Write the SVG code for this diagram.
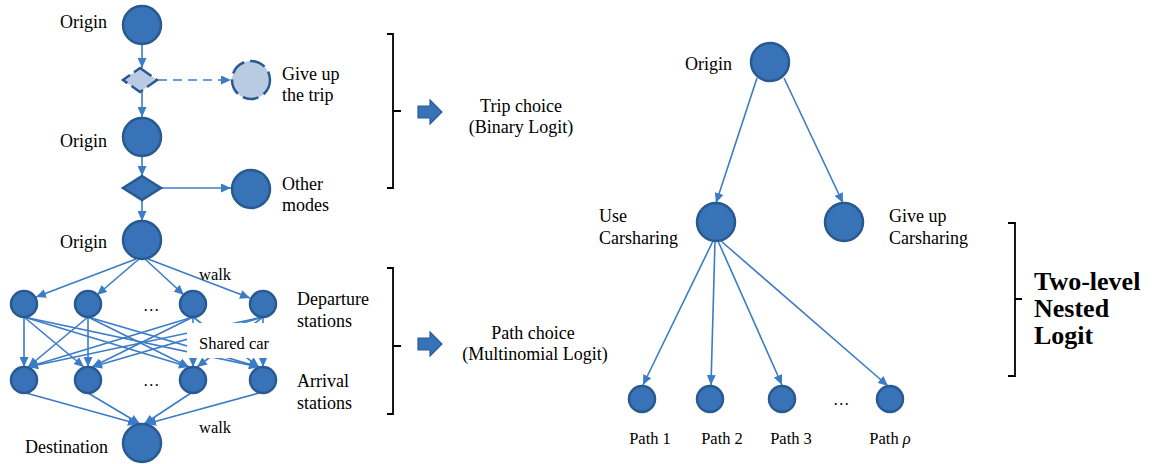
<svg xmlns="http://www.w3.org/2000/svg" width="1155" height="464" viewBox="0 0 1155 464">
<style>
.n{fill:#3873b8;stroke:#285a91;stroke-width:2.5}
.lt{fill:#b9cbe3;stroke:#285a91;stroke-width:2.5;stroke-dasharray:16 6}
.e{stroke:#3b7cc6;stroke-width:1.6;fill:none;marker-end:url(#ah)}
.t{font-family:"Liberation Serif","Times New Roman",serif;font-size:18px;fill:#000}
.s{font-family:"Liberation Serif","Times New Roman",serif;font-size:16.5px;fill:#000}
.b{font-family:"Liberation Serif","Times New Roman",serif;font-size:26px;font-weight:bold;fill:#000}
.br{stroke:#000;stroke-width:1.8;fill:none}
.ba{fill:#3873b8;stroke:#285a91;stroke-width:1.2}
</style>
<defs>
<marker id="ah" markerUnits="userSpaceOnUse" markerWidth="11" markerHeight="9" refX="10" refY="4.5" orient="auto">
<path d="M0,0 L10,4.5 L0,9 z" fill="#3b7cc6"/>
</marker>
</defs>
<rect width="1155" height="464" fill="#fff"/>
<g id="connectors">
<line class="e" x1="142" y1="44" x2="142" y2="68"/>
<line class="e" x1="142" y1="92" x2="142" y2="117"/>
<line class="e" x1="142" y1="156" x2="142" y2="176"/>
<line class="e" x1="142" y1="200" x2="142" y2="221"/>
<line class="e" x1="158" y1="80" x2="231" y2="80" stroke-dasharray="9 6"/>
<line class="e" x1="161" y1="188" x2="231" y2="188"/>
<line class="e" x1="136" y1="259" x2="36" y2="297"/>
<line class="e" x1="139" y1="259" x2="97" y2="295"/>
<line class="e" x1="145" y1="259" x2="184" y2="295"/>
<line class="e" x1="148" y1="259" x2="250" y2="298"/>
<line class="e" x1="24" y1="317" x2="24" y2="367"/>
<line class="e" x1="24" y1="317" x2="84" y2="367"/>
<line class="e" x1="24" y1="317" x2="189" y2="367"/>
<line class="e" x1="24" y1="317" x2="259" y2="367"/>
<line class="e" x1="88" y1="317" x2="28" y2="367"/>
<line class="e" x1="88" y1="317" x2="88" y2="367"/>
<line class="e" x1="88" y1="317" x2="189" y2="367"/>
<line class="e" x1="88" y1="317" x2="259" y2="367"/>
<line class="e" x1="193" y1="317" x2="28" y2="367"/>
<line class="e" x1="193" y1="317" x2="92" y2="367"/>
<line class="e" x1="193" y1="317" x2="193" y2="367"/>
<line class="e" x1="193" y1="317" x2="259" y2="367"/>
<line class="e" x1="263" y1="317" x2="28" y2="367"/>
<line class="e" x1="263" y1="317" x2="92" y2="367"/>
<line class="e" x1="263" y1="317" x2="197" y2="367"/>
<line class="e" x1="263" y1="317" x2="263" y2="367"/>
<line class="e" x1="26" y1="393" x2="138" y2="424"/>
<line class="e" x1="88" y1="393" x2="140" y2="424"/>
<line class="e" x1="191" y1="393" x2="144" y2="424"/>
<line class="e" x1="259" y1="393" x2="146" y2="424"/>
<line class="e" x1="757" y1="78" x2="716" y2="203"/>
<line class="e" x1="784" y1="78" x2="843" y2="203"/>
<line class="e" x1="713" y1="241" x2="643" y2="385"/>
<line class="e" x1="715" y1="241" x2="711" y2="385"/>
<line class="e" x1="718" y1="241" x2="782" y2="385"/>
<line class="e" x1="721" y1="241" x2="888" y2="386"/>
</g>
<g id="shared-car-label">
<rect x="187" y="323" width="96" height="35" fill="#fff"/>
<text class="s" x="199" y="349">Shared car</text>
</g>
<g id="origin1"><circle class="n" cx="142" cy="25" r="19"/><text class="t" x="60" y="28">Origin</text></g>
<g id="decision1"><path d="M140,68 L157,80 L140,92 L123,80 z" fill="#b9cbe3" stroke="#285a91" stroke-width="2.5" stroke-dasharray="14 5"/></g>
<g id="giveup-trip"><circle class="lt" cx="251" cy="80" r="19"/><text class="t" x="282" y="80">Give up</text><text class="t" x="282" y="101">the trip</text></g>
<g id="origin2"><circle class="n" cx="142" cy="137" r="19"/><text class="t" x="60" y="147">Origin</text></g>
<g id="decision2"><path d="M142,176 L161,188 L142,200 L123,188 z" class="n"/></g>
<g id="other-modes"><circle class="n" cx="251" cy="189" r="19"/><text class="t" x="282" y="190">Other</text><text class="t" x="282" y="211">modes</text></g>
<g id="origin3"><circle class="n" cx="142" cy="240" r="19"/><text class="t" x="60" y="248">Origin</text></g>
<g id="dep1"><circle class="n" cx="24" cy="304" r="13"/></g>
<g id="dep2"><circle class="n" cx="88" cy="304" r="13"/></g>
<g id="dep3"><circle class="n" cx="193" cy="304" r="13"/></g>
<g id="dep4"><circle class="n" cx="263" cy="304" r="13"/></g>
<g id="arr1"><circle class="n" cx="24" cy="380" r="13"/></g>
<g id="arr2"><circle class="n" cx="88" cy="380" r="13"/></g>
<g id="arr3"><circle class="n" cx="193" cy="380" r="13"/></g>
<g id="arr4"><circle class="n" cx="263" cy="380" r="13"/></g>
<g id="destination"><circle class="n" cx="142" cy="443" r="19"/><text class="t" x="25" y="453">Destination</text></g>
<g id="left-labels">
<text class="s" x="143" y="311">…</text>
<text class="s" x="143" y="386">…</text>
<text class="s" x="199" y="280">walk</text>
<text class="s" x="199" y="433">walk</text>
<text class="t" x="297" y="305">Departure</text>
<text class="t" x="297" y="327">stations</text>
<text class="t" x="297" y="387">Arrival</text>
<text class="t" x="297" y="409">stations</text>
</g>
<g id="bracket1"><path class="br" d="M387,34 H393 V188 H387 M393,111 H401"/></g>
<g id="blockarrow1"><path class="ba" d="M418,106 H430 V100 L442,112 L430,124 V118 H418 z"/></g>
<g id="trip-choice"><text class="t" x="521" y="112" text-anchor="middle">Trip choice</text><text class="t" x="521" y="133" text-anchor="middle">(Binary Logit)</text></g>
<g id="bracket2"><path class="br" d="M387,268 H393 V414 H387 M393,346 H401"/></g>
<g id="blockarrow2"><path class="ba" d="M418,338 H430 V332 L442,344 L430,356 V350 H418 z"/></g>
<g id="path-choice"><text class="t" x="533" y="339" text-anchor="middle">Path choice</text><text class="t" x="535" y="360" text-anchor="middle">(Multinomial Logit)</text></g>
<g id="r-origin"><circle class="n" cx="770" cy="62" r="19"/><text class="t" x="685" y="70">Origin</text></g>
<g id="use-carsharing"><circle class="n" cx="716" cy="222" r="19"/><text class="t" x="599" y="222">Use</text><text class="t" x="599" y="244">Carsharing</text></g>
<g id="giveup-carsharing"><circle class="n" cx="844" cy="222" r="19"/><text class="t" x="889" y="222">Give up</text><text class="t" x="889" y="244">Carsharing</text></g>
<g id="path1"><circle class="n" cx="642" cy="399" r="13"/><text class="s" x="650" y="444" text-anchor="middle">Path 1</text></g>
<g id="path2"><circle class="n" cx="710" cy="399" r="13"/><text class="s" x="722" y="444" text-anchor="middle">Path 2</text></g>
<g id="path3"><circle class="n" cx="782" cy="399" r="13"/><text class="s" x="791" y="444" text-anchor="middle">Path 3</text></g>
<g id="pathrho"><circle class="n" cx="890" cy="399" r="13"/><text class="s" x="890" y="444" text-anchor="middle">Path <tspan font-style="italic">ρ</tspan></text></g>
<text class="s" x="833" y="405">…</text>
<g id="bracket3"><path class="br" d="M1008,223 H1015 V376 H1008 M1015,299 H1022"/></g>
<g id="nested-logit"><text class="b" x="1034" y="290">Two-level</text><text class="b" x="1034" y="317">Nested</text><text class="b" x="1034" y="344">Logit</text></g>
</svg>
